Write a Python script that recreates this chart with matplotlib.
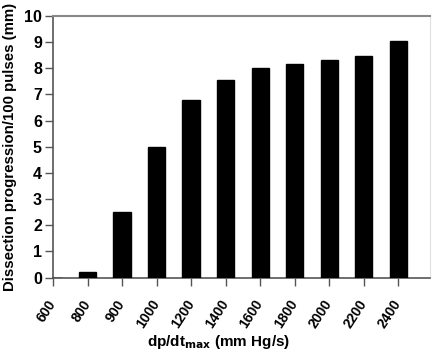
import matplotlib
matplotlib.use("Agg")
import matplotlib.pyplot as plt
import matplotlib.transforms as mtransforms
import numpy as np

categories = ["600", "800", "900", "1000", "1200", "1400", "1600", "1800", "2000", "2200", "2400"]
values = [0.0, 0.2, 2.5, 5.0, 6.8, 7.55, 8.0, 8.15, 8.3, 8.47, 9.03]

plt.rcParams['font.family'] = ['Liberation Sans', 'DejaVu Sans']
plt.rcParams['font.weight'] = 'bold'

fig = plt.figure(figsize=(4.32, 3.53), dpi=100)
ax = fig.add_axes([53/432, 1 - 277.5/353, (430 - 53)/432, (277.5 - 16)/353])

x = np.arange(len(categories))
ax.bar(x, values, width=0.5, color="black", edgecolor="black", zorder=3)

ax.set_xlim(0, 10.92)
ax.set_ylim(0, 10)
ax.set_yticks(range(0, 11))
ax.set_xticks(x)
ax.set_xticklabels(categories, rotation=57, ha="right", va="center", rotation_mode="anchor",
                   fontsize=10, fontweight="bold")
offset = mtransforms.ScaledTranslation(-4/100, 0, fig.dpi_scale_trans)
for lbl in ax.get_xticklabels():
    lbl.set_transform(lbl.get_transform() + offset)
for lbl in ax.get_yticklabels():
    lbl.set_fontsize(11.5)
    lbl.set_fontweight("bold")

ax.tick_params(axis="both", direction="out", length=6, width=1, color="#555555")
ax.tick_params(axis="x", pad=11)
ax.tick_params(axis="y", pad=2)

for s in ["left", "bottom"]:
    ax.spines[s].set_color("#555555")
    ax.spines[s].set_linewidth(1.2)
ax.spines["top"].set_color("#888888")
ax.spines["top"].set_linewidth(1.5)
ax.spines["right"].set_color("#e0e0e0")
ax.spines["right"].set_linewidth(0.8)

ax.set_ylabel("Dissection progression/100 pulses (mm)", fontsize=10.8, fontweight="bold", labelpad=5)
fig.text(219/432, 1 - 342/353, "dp/dt$_{\\mathrm{max}}$ (mm Hg/s)", fontsize=11,
         fontweight="bold", ha="center", va="center")

fig.savefig("out.png", dpi=100)
